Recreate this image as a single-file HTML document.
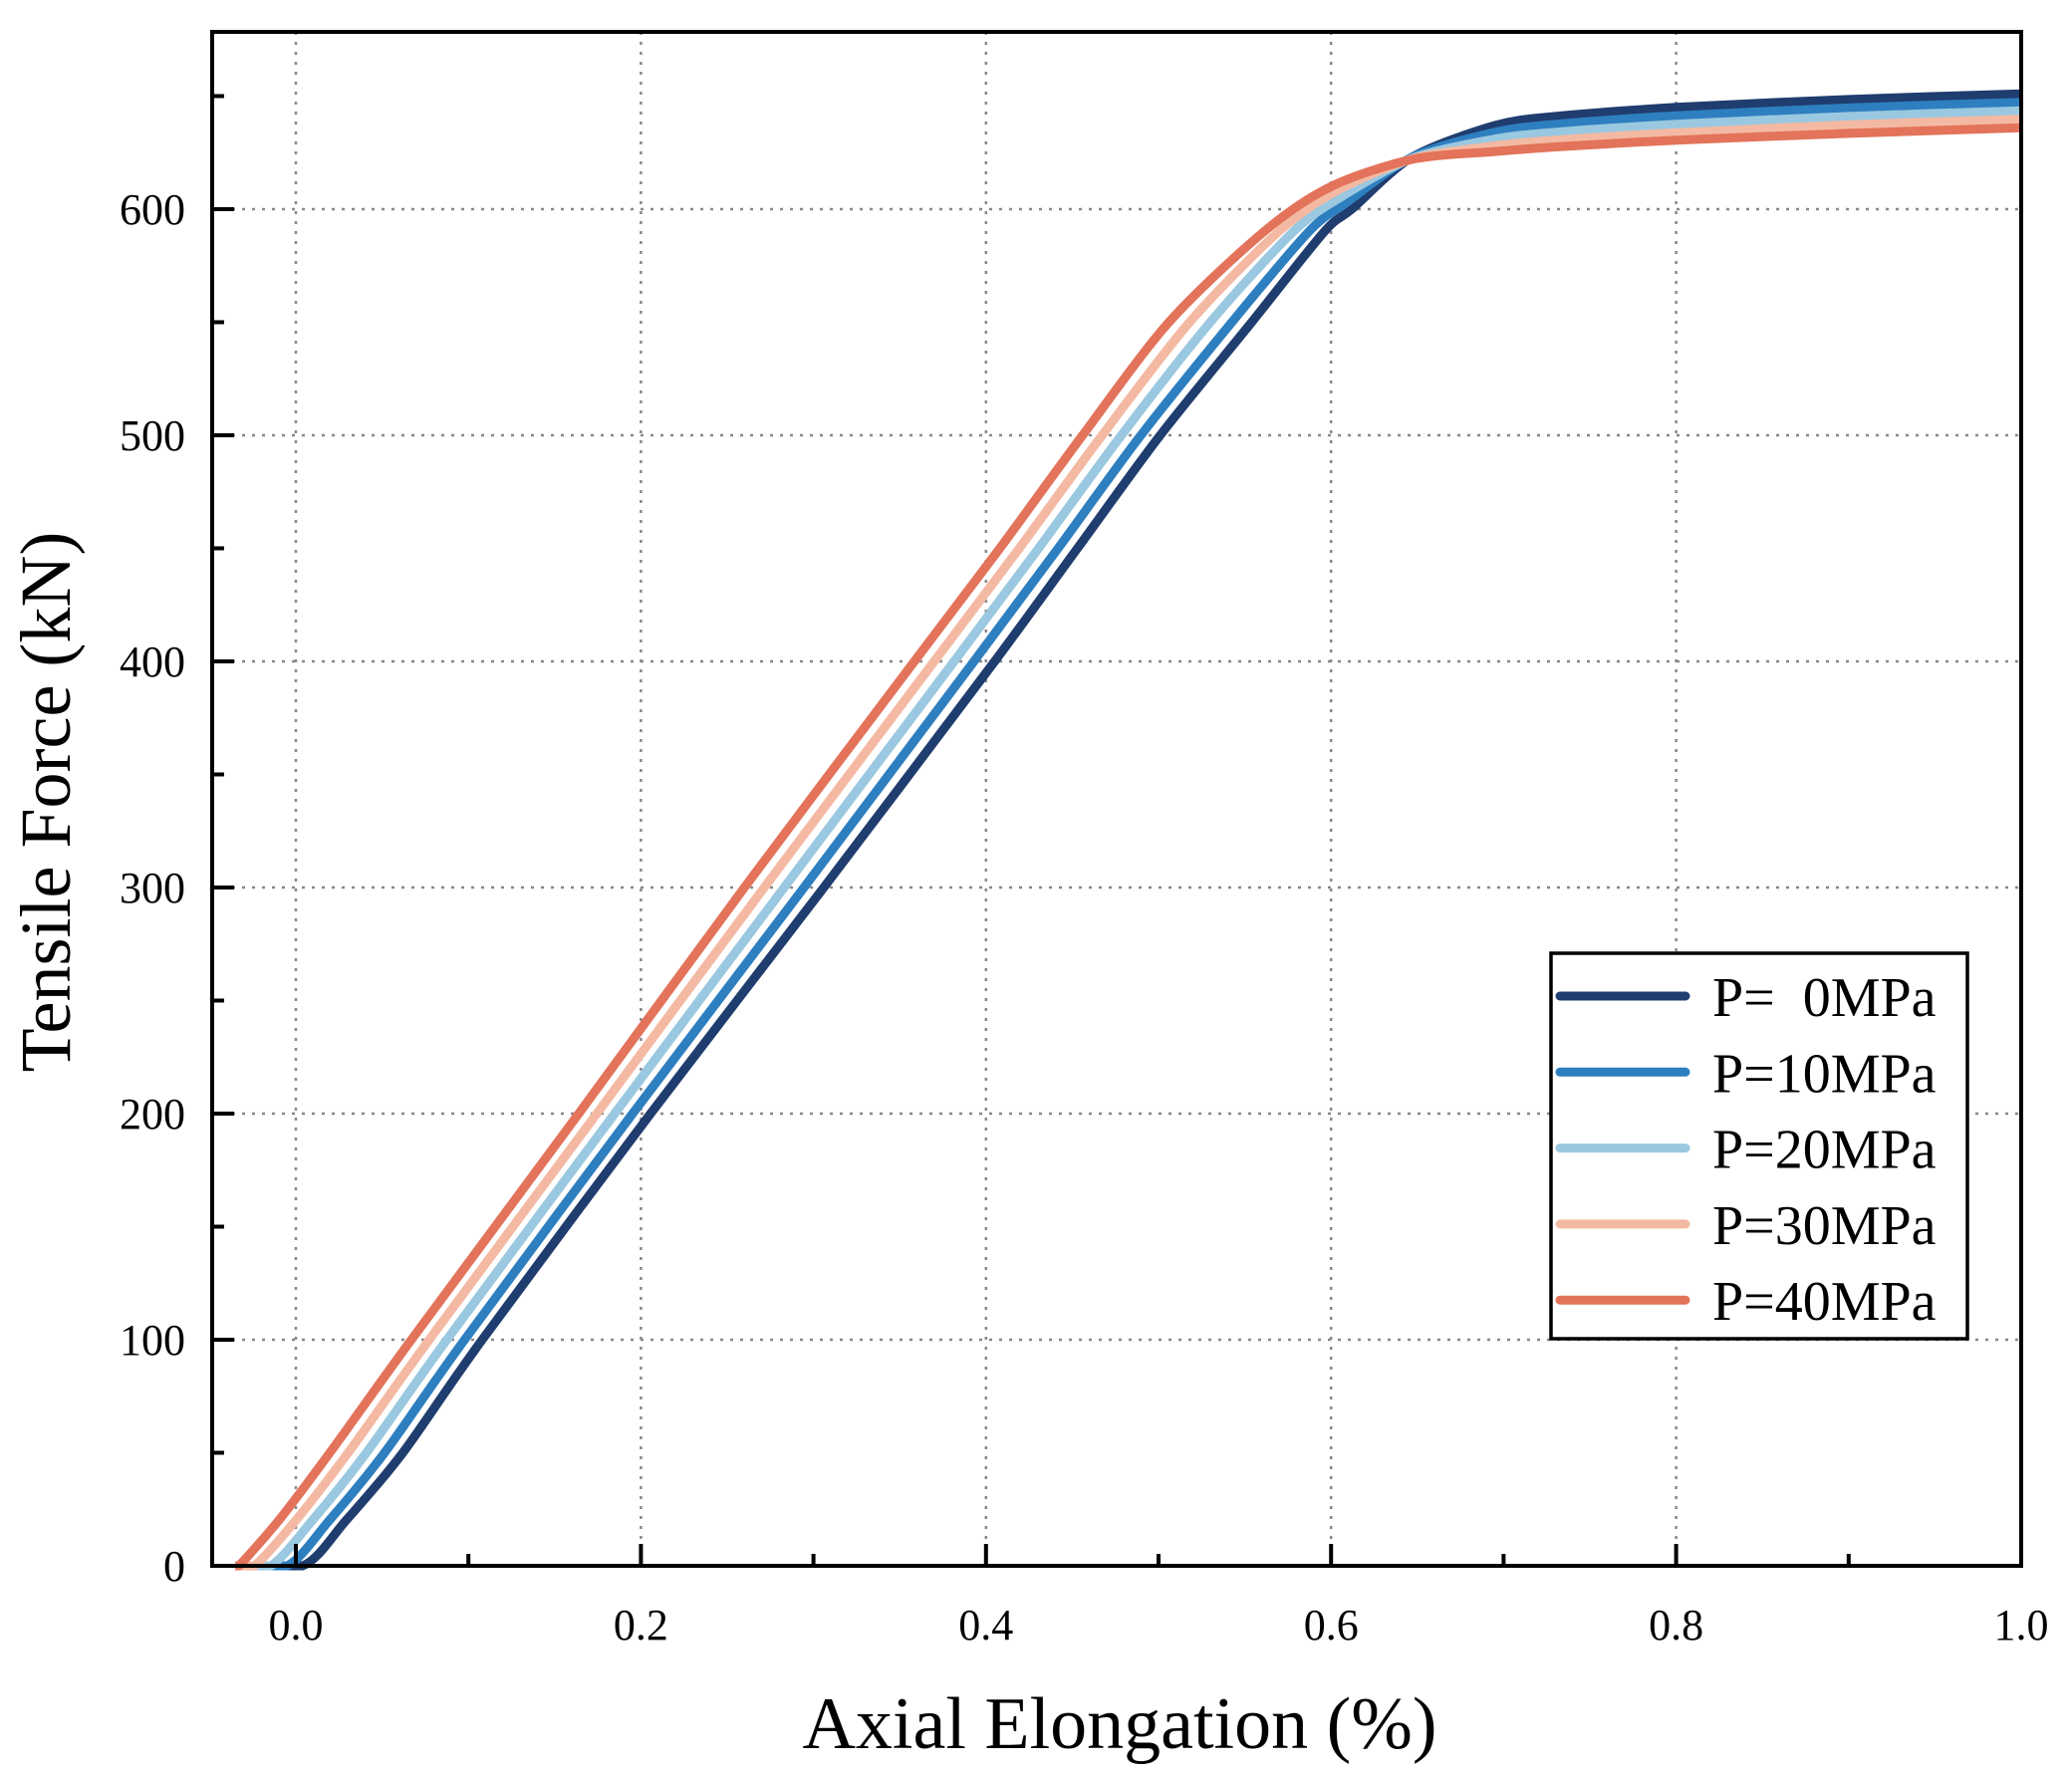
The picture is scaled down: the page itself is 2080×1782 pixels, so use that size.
<!DOCTYPE html>
<html><head><meta charset="utf-8"><style>html,body{margin:0;padding:0;background:#fff}svg{display:block}text{font-family:"Liberation Serif",serif;fill:#000}</style></head>
<body>
<svg id="chart" width="2080" height="1782" viewBox="0 0 2080 1782" xmlns="http://www.w3.org/2000/svg">
<g id="grid"></g>
<g id="series"></g>
<rect x="213" y="32" width="1816" height="1540" fill="none" stroke="#000" stroke-width="4"/>
<g id="ticks"></g>
<text x="1124" y="1755" font-size="74" text-anchor="middle">Axial Elongation (%)</text>
<text transform="translate(70,805) rotate(-90)" font-size="72" text-anchor="middle">Tensile Force (kN)</text>
<g id="legend"></g>
</svg>
<script>
const xTicks=[0,0.2,0.4,0.6,0.8,1.0];
const xTickLabels=["0.0","0.2","0.4","0.6","0.8","1.0"];
const yTicks=[0,100,200,300,400,500,600];
const yTickLabels=["0","100","200","300","400","500","600"];
const seriesNames=["P=  0MPa","P=10MPa","P=20MPa","P=30MPa","P=40MPa"];
const seriesColors=["#1f3d6e","#2e7fc0","#9ac8e0","#f4b9a2","#e3735a"];
const xP0=[-0.035,0.004,0.029,0.062,0.108,0.2056,0.306,0.405,0.453,0.501,0.554,0.596,0.612,0.647,0.695,0.730,0.800,0.900,1.000];
const yP0=[0,0,20,50,100,200,300,400,450,500,550,590,600,623,637,641,645,648.5,651];
const xP10=[-0.035,-0.005,0.0193,0.0514,0.0978,0.1952,0.2945,0.393,0.4418,0.4898,0.5425,0.587,0.609,0.647,0.695,0.730,0.800,0.900,1.000];
const yP10=[0,0,20,50,100,200,300,400,450,500,550,590,603,623,634,637.5,641.25,644.75,647.25];
const xP20=[-0.035,-0.0145,0.0095,0.0409,0.0875,0.1848,0.283,0.3815,0.4305,0.4785,0.530,0.578,0.606,0.647,0.695,0.730,0.800,0.900,1.000];
const yP20=[0,0,20,50,100,200,300,400,450,500,550,590,605.5,622.5,631,634,637.5,641,643.5];
const xP30=[-0.035,-0.024,-0.0002,0.0303,0.0773,0.1744,0.2715,0.370,0.4193,0.4673,0.518,0.5695,0.603,0.647,0.695,0.730,0.800,0.900,1.000];
const yP30=[0,0,20,50,100,200,300,400,450,500,550,590,608,622.2,628,630.5,633.75,637.25,639.75];
const xP40=[-0.035,-0.033,-0.010,0.0197,0.067,0.164,0.260,0.3585,0.408,0.456,0.506,0.561,0.600,0.647,0.695,0.730,0.800,0.900,1.000];
const yP40=[0,0,20,50,100,200,300,400,450,500,550,590,610,622,625.5,627.5,630.5,633.5,636];
const allX=[xP0,xP10,xP20,xP30,xP40], allY=[yP0,yP10,yP20,yP30,yP40];

const L=213,R=2029,T=32,B=1572,XMIN=-0.0485,XMAX=1.0,YMIN=0,YMAX=678.4;
const sx=v=>L+(v-XMIN)/(XMAX-XMIN)*(R-L);
const sy=v=>B-(v-YMIN)/(YMAX-YMIN)*(B-T);
const NS="http://www.w3.org/2000/svg";
function mk(tag,parent,attrs){const e=document.createElementNS(NS,tag);for(const k in attrs)e.setAttribute(k,attrs[k]);parent.appendChild(e);return e;}
const grid=document.getElementById('grid'),ticks=document.getElementById('ticks'),ser=document.getElementById('series'),leg=document.getElementById('legend');
xTicks.forEach((v,i)=>{
  if(i<xTicks.length-1){const g=mk('line',grid,{x1:sx(v),x2:sx(v),y1:T,y2:B,stroke:'#888','stroke-width':2.5,'stroke-dasharray':'3 7'});
  
  }
  const t=mk('line',ticks,{x1:sx(v),x2:sx(v),y1:B,y2:B-22,stroke:'#000','stroke-width':4});
  
  
  const tx=mk('text',ticks,{x:sx(v),y:B+74,'font-size':44,'text-anchor':'middle'});tx.textContent=xTickLabels[i];
  
  
});
for(let v=0.1;v<1.0;v+=0.2){const t=mk('line',ticks,{x1:sx(v),x2:sx(v),y1:B,y2:B-12,stroke:'#000','stroke-width':4});
  
  }
yTicks.forEach((v,i)=>{
  if(i>0){const g=mk('line',grid,{x1:L,x2:R,y1:sy(v),y2:sy(v),stroke:'#888','stroke-width':2.5,'stroke-dasharray':'3 7'});
  
  }
  const t=mk('line',ticks,{x1:L,x2:L+22,y1:sy(v),y2:sy(v),stroke:'#000','stroke-width':4});
  
  
  const tx=mk('text',ticks,{x:L-27,y:sy(v)+15,'font-size':44,'text-anchor':'end'});tx.textContent=yTickLabels[i];
  
  
});
for(let v=50;v<YMAX;v+=100){const t=mk('line',ticks,{x1:L,x2:L+12,y1:sy(v),y2:sy(v),stroke:'#000','stroke-width':4});
  
  }
function smooth(pts){
  let d='M'+pts[0][0].toFixed(1)+','+pts[0][1].toFixed(1);
  for(let i=0;i<pts.length-1;i++){
    const p0=pts[Math.max(0,i-1)],p1=pts[i],p2=pts[i+1],p3=pts[Math.min(pts.length-1,i+2)];
    const t=i===0?0:1/7, t2=(i===0)?0:1/7;
    const c1=[p1[0]+(p2[0]-p0[0])*t,p1[1]+(p2[1]-p0[1])*t];
    const c2=[p2[0]-(p3[0]-p1[0])*t2,p2[1]-(p3[1]-p1[1])*t2];
    d+=' C'+c1[0].toFixed(1)+','+c1[1].toFixed(1)+' '+c2[0].toFixed(1)+','+c2[1].toFixed(1)+' '+p2[0].toFixed(1)+','+p2[1].toFixed(1);
  }
  return d;
}
allX.forEach((xs,s)=>{
  const pts=xs.map((x,i)=>[sx(x),sy(allY[s][i])]);
  const p=mk('path',ser,{d:smooth(pts),fill:'none',stroke:seriesColors[s],'stroke-width':9,'stroke-linejoin':'round'});
  
  
});
const lb=mk('rect',leg,{x:1557,y:957,width:418,height:387,fill:'#fff',stroke:'#000','stroke-width':3.5});


seriesNames.forEach((n,i)=>{
  const y=1000+i*76.3;
  const l=mk('line',leg,{x1:1566,x2:1692,y1:y,y2:y,stroke:seriesColors[i],'stroke-width':9,'stroke-linecap':'round'});
  
  
  const t=mk('text',leg,{x:1719,y:y+20,'font-size':56});t.textContent=n;t.style.whiteSpace='pre';
  
  
});
</script>
</body></html>
